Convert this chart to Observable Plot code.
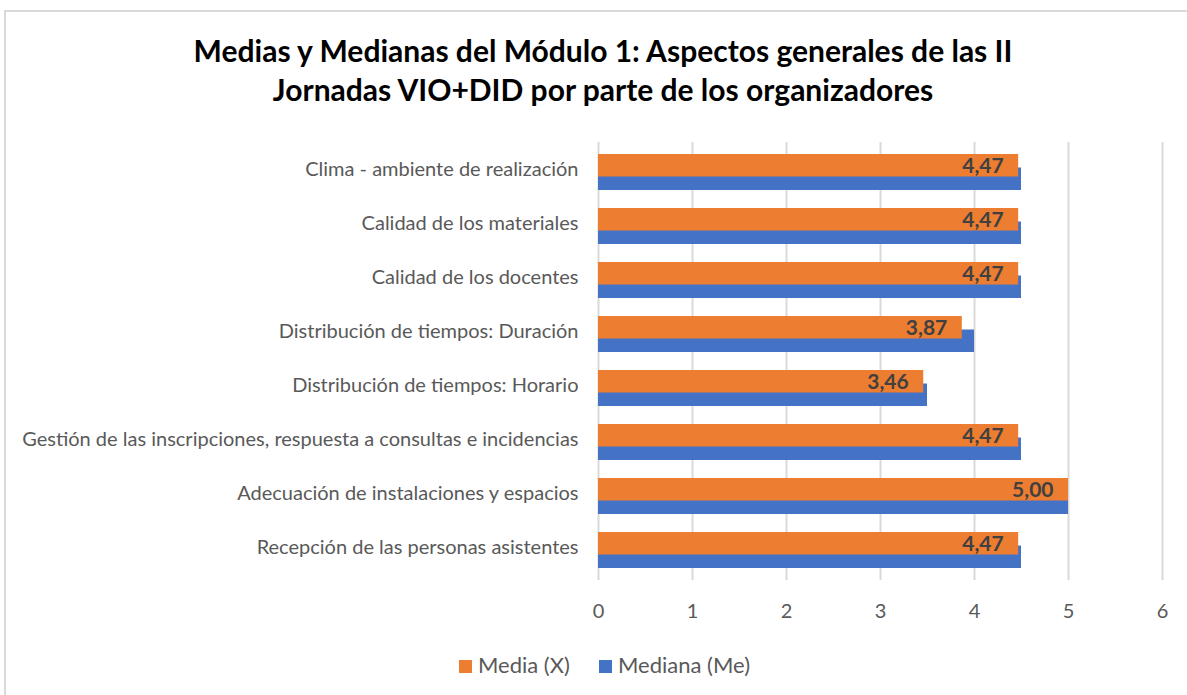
<!DOCTYPE html>
<html>
<head>
<meta charset="utf-8">
<script src="https://cdn.jsdelivr.net/npm/d3@7"></script>
<script src="https://cdn.jsdelivr.net/npm/@observablehq/plot@0.6"></script>
<style>
  html, body { margin: 0; padding: 0; background: #fff; overflow: hidden; width: 1187px; height: 695px; }
  #frame { position: absolute; left: 4px; top: 10px; width: 1300px; height: 800px; border-left: 2px solid #d9d9d9; border-top: 2px solid #d9d9d9; box-sizing: border-box; }
  #title { position: absolute; left: 0; width: 1206px; top: 31px; text-align: center; font-family: Lato, sans-serif; font-weight: bold; font-size: 30px; line-height: 39px; color: #000; }
  #chart { position: absolute; left: 0; top: 128px; }
  #legend { position: absolute; left: 0; width: 1187px; top: 651px; font-family: Lato, sans-serif; font-size: 22px; color: #595959; }
  .item { position: absolute; top: 0; height: 28px; line-height: 28px; white-space: nowrap; }
  .sw { display: inline-block; width: 13px; height: 13px; margin-right: 6px; vertical-align: 0px; }
</style>
</head>
<body>
<div id="frame"></div>
<div id="title">Medias y Medianas del Módulo 1: Aspectos generales de las II<br>Jornadas VIO+DID por parte de los organizadores</div>
<div id="chart"></div>
<div id="legend"></div>
<script>
const categories = [
  "Clima - ambiente de realización",
  "Calidad de los materiales",
  "Calidad de los docentes",
  "Distribución de tiempos: Duración",
  "Distribución de tiempos: Horario",
  "Gestión de las inscripciones, respuesta a consultas e incidencias",
  "Adecuación de instalaciones y espacios",
  "Recepción de las personas asistentes"
];
const media = [4.47, 4.47, 4.47, 3.87, 3.46, 4.47, 5.00, 4.47];
const mediana = [4.5, 4.5, 4.5, 4.0, 3.5, 4.5, 5.0, 4.5];
const seriesNames = ["Media (X)", "Mediana (Me)"];
const xTicks = [0, 1, 2, 3, 4, 5, 6];
const colors = ["#ED7D31", "#4472C4"];

const mediaData = categories.map((c, i) => ({cat: c, value: media[i]}));
const medianaData = categories.map((c, i) => ({cat: c, value: mediana[i]}));
const fmt = v => v.toFixed(2).replace(".", ",");

const chart = Plot.plot({
  width: 1187,
  height: 512,
  marginLeft: 598,
  marginRight: 25,
  marginTop: 14,
  marginBottom: 60,
  style: {fontFamily: "Lato, sans-serif", color: "#595959", background: "transparent"},
  x: {domain: [0, 6], ticks: xTicks, label: null},
  y: {domain: categories, padding: 0, label: null},
  marks: [
    Plot.gridX(xTicks, {stroke: "#d9d9d9", strokeWidth: 2, strokeOpacity: 1}),
    Plot.barX(medianaData, {x: "value", y: "cat", fill: colors[1], insetTop: 22.5, insetBottom: 9}),
    Plot.barX(mediaData, {x: "value", y: "cat", fill: colors[0], insetTop: 9, insetBottom: 22.5}),
    Plot.text(mediaData, {x: "value", y: "cat", text: d => fmt(d.value), textAnchor: "end", dx: -15, dy: -6.5,
      fill: "#404040", fontWeight: "bold", fontSize: 21}),
    Plot.axisX({ticks: xTicks, tickSize: 0, tickPadding: 23, fontSize: 20, tickFormat: d => String(d), fill: "#595959", label: null}),
    Plot.axisY({tickSize: 0, tickPadding: 20, dy: -3, fontSize: 20, fill: "#595959", label: null})
  ]
});
document.getElementById("chart").appendChild(chart);

const legend = document.getElementById("legend");
const lefts = [459, 599];
seriesNames.forEach((name, i) => {
  const d = document.createElement("div");
  d.className = "item";
  d.style.left = lefts[i] + "px";
  d.innerHTML = `<span class="sw" style="background:${colors[i]}"></span>${name}`;
  legend.appendChild(d);
});
</script>
</body>
</html>
